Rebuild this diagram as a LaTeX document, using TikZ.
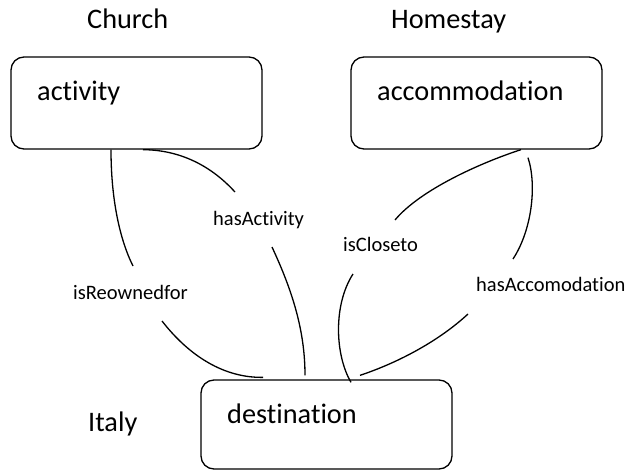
\documentclass[tikz,border=0pt]{standalone}
\usepackage{fontspec}
\setmainfont{Carlito}[Ligatures=NoCommon]
\begin{document}
\begin{tikzpicture}[x=1pt,y=-1pt,
  box/.style={draw, line width=1.3pt, rounded corners=13pt, minimum width=251pt, inner sep=0pt},
  big/.style={font=\fontsize{28.3}{32}\selectfont, inner sep=0pt, anchor=base west},
  rel/.style={font=\fontsize{20.5}{24}\selectfont, inner sep=0pt, anchor=base west},
  link/.style={line width=1.3pt}]
\useasboundingbox (0,0) rectangle (633,471);

% class boxes
\node[box, minimum height=92pt] (activity) at (136.5,103) {};
\node[box, minimum height=92pt] (accommodation) at (476.5,103) {};
\node[box, minimum height=89pt] (destination) at (326.5,424.5) {};

% box captions and instance names
\node[big] (activitytxt) at (37,100) {activity};
\node[big] (accommodationtxt) at (377,100) {accommodation};
\node[big] (destinationtxt) at (227,423) {destination};
\node[big] (church) at (87,28) {Church};
\node[big] (homestay) at (391,28) {Homestay};
\node[big] (italy) at (88,431) {Italy};

% relation labels
\node[rel] (reowned) at (73,299) {isReownedfor};
\node[rel] (hasact) at (213,225) {hasActivity};
\node[rel] (closeto) at (343,251) {isCloseto};
\node[rel] (hasacc) at (476,291) {hasAccomodation};

% ends of the connector pieces beside the labels
\coordinate (r1a) at (133,266);
\coordinate (r1b) at (162,321);
\coordinate (h1a) at (235,192);
\coordinate (h1b) at (272,247);
\coordinate (c1a) at (395,220);
\coordinate (c1b) at (353,274);
\coordinate (a1a) at (513,259);
\coordinate (a1b) at (468,314);

% isReownedfor
\draw[link] ([xshift=-25.5pt]activity.south) .. controls (111,200) and (120,240) .. (r1a);
\draw[link] (r1b) .. controls (190,357) and (225,378) .. ([xshift=-63.5pt,yshift=2pt]destination.north);
% hasActivity
\draw[link] ([xshift=6.5pt]activity.south) .. controls (185,150) and (215,170) .. (h1a);
\draw[link] (h1b) .. controls (292,290) and (305,330) .. ([xshift=-21.5pt,yshift=4pt]destination.north);
% isCloseto
\draw[link] ([xshift=44.5pt]accommodation.south) .. controls (480,163) and (420,190) .. (c1a);
\draw[link] (c1b) .. controls (333,305) and (335,355) .. ([xshift=24.5pt,yshift=-3pt]destination.north);
% hasAccomodation
\draw[link] ([xshift=51.5pt,yshift=-8pt]accommodation.south) .. controls (537,185) and (532,230) .. (a1a);
\draw[link] (a1b) .. controls (440,340) and (400,362) .. ([xshift=33.5pt,yshift=4pt]destination.north);
\end{tikzpicture}
\end{document}
